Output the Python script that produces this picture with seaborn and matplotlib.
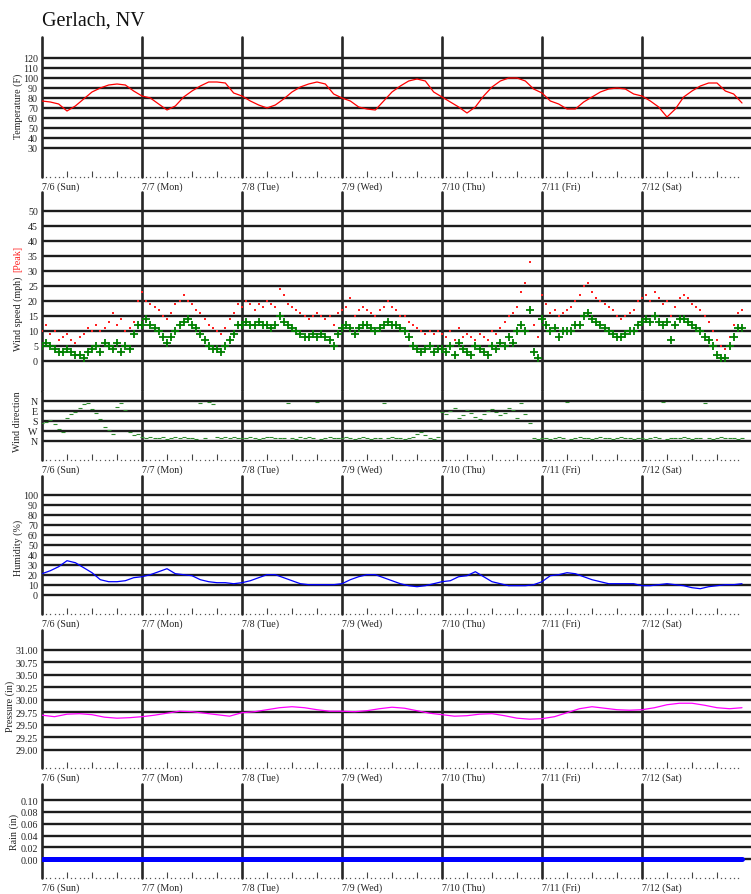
import numpy as np
import matplotlib
matplotlib.use('Agg')
import matplotlib.pyplot as plt
import seaborn as sns

# ---------------- data ----------------
day_labels = ['7/6 (Sun)', '7/7 (Mon)', '7/8 (Tue)', '7/9 (Wed)',
              '7/10 (Thu)', '7/11 (Fri)', '7/12 (Sat)']

# temperature (F), every 2 hours from 7/6 00:00
temp_f = [77, 76, 74, 67, 72, 79, 86, 90, 93, 94, 93, 87,
          82, 80, 74, 68, 72, 81, 87, 92, 96, 96, 95, 85,
          82, 77, 73, 70, 73, 79, 86, 91, 94, 96, 94, 84,
          80, 77, 71, 69, 68, 77, 86, 92, 97, 99, 97, 86,
          81, 76, 71, 65, 71, 82, 91, 97, 100, 100, 97, 89,
          85, 77, 74, 69, 69, 76, 81, 86, 89, 90, 89, 84,
          82, 77, 71, 61, 69, 81, 87, 92, 95, 95, 87, 84, 75]

# wind speed (mph), hourly
wind_mph = [5, 6, 5, 4, 3, 3, 4, 3, 2, 2, 1, 3, 4, 5, 3, 6, 5, 4, 6, 3, 5, 4, 9, 12,
            12, 14, 12, 11, 10, 8, 6, 8, 10, 12, 13, 14, 12, 11, 9, 7, 5, 4, 4, 3, 5, 7, 9, 12,
            12, 13, 12, 12, 13, 12, 12, 11, 12, 15, 13, 12, 11, 10, 9, 8, 8, 9, 8, 9, 8, 7, 5, 9,
            11, 12, 11, 9, 11, 12, 12, 11, 10, 11, 12, 13, 12, 12, 11, 10, 8, 5, 4, 3, 4, 5, 3, 4,
            4, 3, 5, 2, 6, 4, 3, 2, 5, 4, 3, 2, 5, 4, 6, 5, 8, 6, 10, 12, 10, 17, 3, 1,
            14, 12, 10, 11, 8, 10, 10, 10, 12, 12, 15, 16, 14, 13, 12, 11, 10, 9, 8, 8, 9, 10, 10, 12,
            13, 14, 13, 15, 13, 12, 13, 7, 12, 14, 14, 13, 12, 11, 10, 8, 7, 5, 2, 1, 1, 5, 8, 11, 11]

# peak wind (mph), hourly
peak_mph = [10, 12, 9, 10, 7, 8, 9, 7, 6, 8, 9, 11, 10, 12, 10, 11, 13, 16, 12, 14, 10, 11, 13, 20,
            23, 20, 19, 18, 17, 15, 14, 16, 19, 20, 22, 20, 19, 17, 16, 14, 12, 11, 10, 9, 11, 14, 16, 19,
            18, 20, 19, 17, 19, 18, 20, 19, 18, 24, 22, 19, 18, 17, 16, 15, 14, 15, 16, 15, 14, 15, 12, 16,
            17, 18, 21, 15, 17, 18, 17, 16, 15, 17, 18, 20, 18, 17, 15, 15, 13, 12, 11, 10, 9, 10, 9, 10,
            9, 8, 10, 7, 11, 8, 9, 8, 7, 9, 8, 7, 10, 9, 11, 13, 15, 16, 18, 23, 26, 33, 12, 8,
            22, 19, 16, 17, 15, 16, 17, 18, 20, 22, 25, 26, 23, 21, 20, 19, 18, 17, 15, 14, 15, 16, 17, 20,
            21, 22, 20, 23, 21, 19, 20, 15, 18, 21, 22, 21, 19, 18, 17, 15, 13, 10, 7, 5, 4, 8, 12, 16, 17]

# wind direction (degrees, N=0), hourly
wind_dir_deg = [200, 190, 170, 210, 250, 280, 150, 120, 100, 60, 30, 20, 70, 110, 160, 230, 260, 300, 50, 20, 80, 280, 310, 300,
                320, 330, 325, 335, 330, 320, 340, 330, 325, 330, 320, 330, 335, 340, 20, 330, 10, 30, 320, 330, 325, 330, 320, 330,
                330, 335, 320, 330, 340, 330, 325, 320, 330, 335, 330, 20, 330, 340, 325, 330, 320, 330, 10, 340, 330, 325, 330, 335,
                330, 320, 335, 340, 330, 325, 330, 340, 335, 330, 20, 330, 320, 335, 330, 340, 330, 320, 300, 280, 310, 330, 340, 320,
                100, 120, 90, 60, 150, 130, 80, 110, 140, 160, 120, 90, 70, 100, 130, 110, 60, 80, 150, 20, 120, 200, 330, 340,
                330, 335, 340, 330, 320, 330, 10, 340, 330, 325, 335, 330, 340, 330, 320, 335, 330, 340, 330, 325, 330, 335, 340, 330,
                330, 340, 335, 320, 330, 10, 340, 330, 335, 330, 320, 330, 340, 330, 335, 20, 330, 340, 330, 325, 330, 335, 330, 340, 335]

# humidity (%), every 2 hours
humidity_pct = [21, 24, 28, 34, 32, 27, 22, 15, 13, 13, 14, 17,
                18, 20, 23, 26, 21, 20, 19, 15, 13, 12, 12, 11,
                12, 14, 17, 20, 20, 17, 14, 11, 10, 10, 10, 10,
                11, 15, 18, 20, 20, 17, 14, 11, 9, 8, 9, 11,
                13, 14, 18, 19, 23, 18, 13, 11, 9, 9, 9, 10,
                13, 19, 20, 22, 21, 18, 15, 13, 11, 11, 11, 11,
                9, 9, 10, 11, 10, 9, 7, 6, 8, 9, 10, 10, 11]

# pressure (in), every 3 hours
pressure_in = [29.69, 29.66, 29.71, 29.72, 29.70, 29.65, 29.63, 29.64,
               29.66, 29.69, 29.73, 29.77, 29.76, 29.73, 29.70, 29.67,
               29.74, 29.76, 29.80, 29.84, 29.86, 29.84, 29.80, 29.77,
               29.77, 29.76, 29.78, 29.82, 29.85, 29.83, 29.78, 29.73,
               29.70, 29.67, 29.68, 29.71, 29.72, 29.68, 29.63, 29.61,
               29.62, 29.66, 29.74, 29.82, 29.86, 29.83, 29.80, 29.79,
               29.80, 29.84, 29.90, 29.93, 29.93, 29.89, 29.84, 29.82, 29.84]

# rain (in), every 12 hours
rain_in = [0.00, 0.00, 0.00, 0.00, 0.00, 0.00, 0.00, 0.00,
           0.00, 0.00, 0.00, 0.00, 0.00, 0.00, 0.00]

temp_ticks = [30, 40, 50, 60, 70, 80, 90, 100, 110, 120]
wind_ticks = [0, 5, 10, 15, 20, 25, 30, 35, 40, 45, 50]
dir_ticks = [0, 90, 180, 270, 360]
dir_labels = ['N', 'E', 'S', 'W', 'N']
hum_ticks = [0, 10, 20, 30, 40, 50, 60, 70, 80, 90, 100]
pres_ticks = [29.00, 29.25, 29.50, 29.75, 30.00, 30.25, 30.50, 30.75, 31.00]
rain_ticks = [0.00, 0.02, 0.04, 0.06, 0.08, 0.10]

# ---------------- style ----------------
sns.set_theme(style='white')
plt.rcParams['font.family'] = ['Liberation Serif', 'DejaVu Serif']
plt.rcParams['axes.facecolor'] = 'white'

W, H = 751, 895
fig = plt.figure(figsize=(W / 100, H / 100), dpi=100)
fig.patch.set_facecolor('white')

L = 42
XMAX = (W - L) / 100.0


def add_axes(top, bottom):
    return fig.add_axes([L / W, 1 - bottom / H, (W - L) / W, (bottom - top) / H])


def ftext(x, y, s, **kw):
    fig.text(x / W, 1 - y / H, s, **kw)


LINE = '#1c1c1c'


def style(ax, yticks, ylabels, ylim, show_x=True):
    ax.set_xlim(0, XMAX)
    ax.set_ylim(*ylim)
    ax.set_xlabel('')
    ax.set_ylabel('')
    ax.set_yticks(yticks)
    ax.set_yticklabels(ylabels)
    for s in ax.spines.values():
        s.set_visible(False)
    for v in yticks:
        ax.axhline(v, color=LINE, lw=1.7, zorder=1)
    for d in range(7):
        ax.axvline(d, color='#262626', lw=1.9, zorder=1, clip_on=False)
    ax.tick_params(axis='y', length=0, pad=3, labelsize=7.2, colors='#222')
    if show_x:
        ax.set_xticks(range(7))
        ax.set_xticklabels(day_labels)
        minor = [d + q for d in range(7) for q in (0.25, 0.5, 0.75)]
        ax.set_xticks(minor, minor=True)
        ax.tick_params(axis='x', which='major', length=0, pad=3, labelsize=7.2,
                       colors='#222')
        ax.tick_params(axis='x', which='minor', direction='in', length=4.5,
                       width=0.8, color='#444', bottom=True)
        for lab in ax.get_xticklabels():
            lab.set_horizontalalignment('left')
        hours = [h / 24 for h in range(7 * 24) if h % 6 != 0]
        ax.plot(hours, [0] * len(hours), ls='none', marker='s', ms=0.9,
                mec='none', color='#555', transform=ax.get_xaxis_transform(),
                clip_on=False)
    else:
        ax.set_xticks([])


# ---------------- temperature ----------------
ax_t = add_axes(38, 178)
t_temp = np.arange(len(temp_f)) * 2 / 24
sns.lineplot(x=t_temp, y=temp_f, ax=ax_t, color='#ff0000', linewidth=0.9, zorder=3)
style(ax_t, temp_ticks, [str(v) for v in temp_ticks], (1, 141))

# ---------------- wind speed ----------------
ax_w = add_axes(193, 392)
t_wind = np.arange(len(wind_mph)) / 24
sns.scatterplot(x=t_wind, y=peak_mph, ax=ax_w, marker='s', s=2.5, color='#ff2020',
                linewidth=0, zorder=3)
sns.scatterplot(x=t_wind, y=wind_mph, ax=ax_w, marker='+', s=30, color='#008000',
                linewidth=1.3, zorder=4)
style(ax_w, wind_ticks, [str(v) for v in wind_ticks], (-10, 56.33), show_x=False)

# ---------------- wind direction ----------------
ax_d = add_axes(392, 461)
t_dir = np.arange(len(wind_dir_deg)) / 24
sns.scatterplot(x=t_dir, y=wind_dir_deg, ax=ax_d, marker='_', s=8, color='#2e8b2e',
                linewidth=0.8, zorder=3)
style(ax_d, dir_ticks, dir_labels, (531, -90))

# ---------------- humidity ----------------
ax_h = add_axes(477, 615)
t_hum = np.arange(len(humidity_pct)) * 2 / 24
sns.lineplot(x=t_hum, y=humidity_pct, ax=ax_h, color='#0000ff', linewidth=0.9, zorder=3)
style(ax_h, hum_ticks, [str(v) for v in hum_ticks], (-19.3, 118.7))

# ---------------- pressure ----------------
ax_p = add_axes(631, 769)
t_pres = np.arange(len(pressure_in)) * 3 / 24
sns.lineplot(x=t_pres, y=pressure_in, ax=ax_p, color='#ff00ff', linewidth=0.9, zorder=3)
style(ax_p, pres_ticks, ['%.2f' % v for v in pres_ticks], (28.63, 31.40))

# ---------------- rain ----------------
ax_r = add_axes(785, 879)
t_rain = np.arange(len(rain_in)) * 12 / 24
sns.lineplot(x=t_rain, y=rain_in, ax=ax_r, color='#0000ff', linewidth=3.6, zorder=3)
style(ax_r, rain_ticks, ['%.2f' % v for v in rain_ticks], (-0.0315, 0.127))

# ---------------- texts ----------------
ftext(42, 26, 'Gerlach, NV', fontsize=14.5, ha='left', va='baseline', color='#111')
lab_kw = dict(rotation=90, ha='center', va='center', fontsize=7.2, color='#222')
ftext(18, 106, 'Temperature (F)', **lab_kw)
ftext(18, 314, 'Wind speed (mph)', **lab_kw)
ftext(18, 259, '[Peak]', **{**lab_kw, 'color': '#ff2020'})
ftext(18, 422, 'Wind direction', **lab_kw)
ftext(18, 548, 'Humidity (%)', **lab_kw)
ftext(10, 706, 'Pressure (in)', **lab_kw)
ftext(14, 832, 'Rain (in)', **lab_kw)

fig.savefig('out.png', dpi=100, facecolor='white')
